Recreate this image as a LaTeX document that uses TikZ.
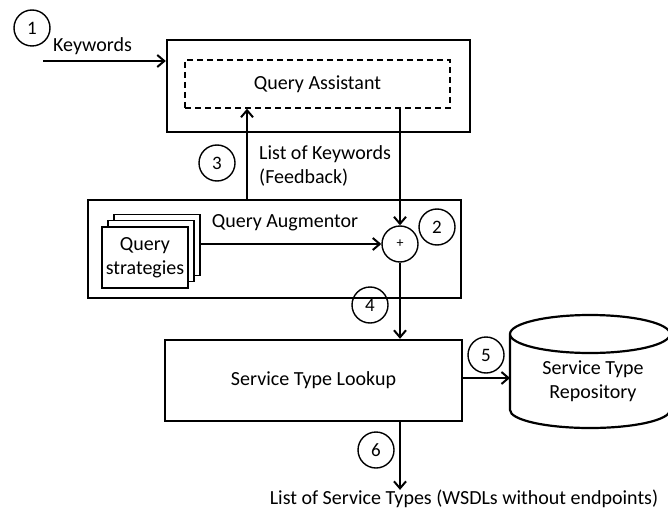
\documentclass[tikz,border=0pt]{standalone}
\usepackage{fontspec}
\setmainfont{Carlito}
\usetikzlibrary{arrows.meta,positioning}
\tikzset{
  box/.style={draw, line width=2.4pt, rectangle, inner sep=0pt},
  innerbox/.style={draw, line width=1.5pt, dash pattern=on 6pt off 4pt, rectangle, inner sep=0pt},
  page/.style={draw, line width=1.8pt, fill=white, rectangle, inner sep=0pt, minimum width=86pt, minimum height=61pt},
  num/.style={draw, line width=1.4pt, circle, minimum size=36pt, inner sep=0pt, font=\fontsize{19}{21}\selectfont},
  label/.style={font=\fontsize{20}{24}\selectfont, inner sep=0pt},
  flow/.style={line width=2.2pt, -{Straight Barb[length=7pt,width=12pt,line width=2pt]}},
}
\begin{document}
\begin{tikzpicture}[x=1pt,y=-1pt]
\useasboundingbox (0,0) rectangle (668,513);

% Query assistant
\node[box, minimum width=303pt, minimum height=92pt] (qaouter) at (318.5,86) {};
\node[innerbox, minimum width=265pt, minimum height=48pt, label] (qa) at (317.5,84) {Query Assistant};

% Query augmentor
\node[box, minimum width=373pt, minimum height=98pt] (aug) at (274.5,249) {};
\node[label] (augtxt) at (285,223) {Query Augmentor};
\node[page] (p3) at (157,245) {};
\node[page] (p2) at (151,251) {};
\node[page, label, align=center, minimum width=86pt, minimum height=61pt] (p1) at (145,257.5) {Query\\strategies};
\node[draw, line width=1.4pt, circle, minimum size=36pt, inner sep=0pt, font=\fontsize{14}{15}\selectfont] (plus) at (400,244) {+};

% Lookup and repository (cylinder drawn as a path)
\node[box, minimum width=297pt, minimum height=81pt, label] (lookup) at (313.5,380.5) {Service Type Lookup};
\draw[line width=2.2pt] (510,334) arc[start angle=180, end angle=-180, x radius=80, y radius=19]
  (510,334) -- (510,410) arc[start angle=180, end angle=0, x radius=80, y radius=18] -- (670,334);
\node[label, align=center] (repo) at (593,381) {Service Type\\Repository};

% Step numbers
\node[num] (n1) at (32,28) {1};
\node[num] (n2) at (437,227) {2};
\node[num] (n3) at (217,163) {3};
\node[num] (n4) at (370,305) {4};
\node[num] (n5) at (486,355) {5};
\node[num] (n6) at (376,450) {6};

% Texts
\node[label, anchor=west] (kw) at (53,46) {Keywords};
\node[label, anchor=west, align=left] (fb) at (259,166) {List of Keywords\\(Feedback)};
\node[label] (out) at (464,499) {List of Service Types (WSDLs without endpoints)};

% Connectors
\coordinate (kwstart) at (43,61);
\coordinate (reposide) at (510,378);
\draw[flow] (kwstart) -- (qaouter.west |- kwstart);
\draw[flow] (aug.north -| 247,0) -- (qa.south -| 247,0);
\draw[flow] (qa.south -| plus) -- (plus.north);
\draw[flow] (p3.east |- plus) -- (plus.west);
\draw[flow] (plus.south) -- (lookup.north -| plus);
\draw[flow] (lookup.east |- reposide) -- (reposide);
\draw[flow] (lookup.south -| plus) -- (out.north -| plus);
\end{tikzpicture}
\end{document}
